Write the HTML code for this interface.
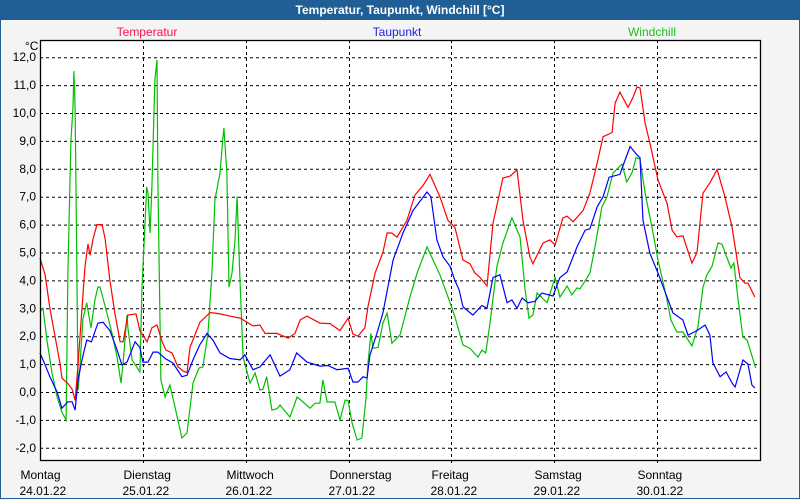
<!DOCTYPE html>
<html><head><meta charset="utf-8"><style>
body{margin:0;width:800px;height:500px;overflow:hidden;background:#f4f4f4;font-family:"Liberation Sans",sans-serif;}
#wrap{position:absolute;left:0;top:0;width:798px;height:498px;border:1px solid #1f5f96;border-top:none;}
#title{position:absolute;left:0;top:0;width:800px;height:20px;background:#1f5f96;color:#fff;font-weight:bold;font-size:12px;text-align:center;line-height:20px;}
</style></head><body>
<div id="wrap"></div>
<div id="title">Temperatur, Taupunkt, Windchill [°C]</div>
<svg id="chart" width="800" height="500" style="position:absolute;left:0;top:0"></svg>
<script>
const days=["Montag","Dienstag","Mittwoch","Donnerstag","Freitag","Samstag","Sonntag"];
const dates=["24.01.22","25.01.22","26.01.22","27.01.22","28.01.22","29.01.22","30.01.22"];
const yTicks=[-2,-1,0,1,2,3,4,5,6,7,8,9,10,11,12];
const tempH=[0,1.2,2.3,3.5,4.7,5.1,6.5,7.5,8.2,8.9,9.8,10.5,11.2,11.7,12.4,13.3,14.5,15.2,16.3,17.5,18.7,19.4,20.5,22.4,23.3,25,26.1,27.3,28.5,29.4,30.8,32.2,33.4,34.3,35,37.3,39.7,42,44.3,46.7,49.7,51.3,52.5,55.3,57.9,59.5,60.7,62.3,65.3,67.7,70,71.9,73,74.2,75.8,76.5,78.2,80,81,82.1,83.3,85.6,87.5,89.4,91,93.3,95.2,96.8,98.7,100.3,101.5,102.7,104.3,105.7,108,109.7,111.3,112.7,114.3,115,117.4,119,120.2,122,123,124.4,126.7,128.3,130,131.4,133.5,134.2,135.3,137.2,138.4,139.3,140,141.2,142.3,144.2,146.3,147.5,148.6,150,152.1,153.3,154.7,156.3,158,159.8,161.5,163.3,164.5,165.2,166.8];
const tempV=[4.8,4.2,3.0,2.0,1.0,0.5,0.3,0.1,-0.3,1.0,3.0,4.5,5.3,4.9,5.5,6.0,6.0,5.5,4.0,2.8,1.8,1.8,2.76,2.8,2.2,1.8,2.3,2.4,1.8,1.5,1.4,0.9,0.75,0.7,1.6,2.5,2.85,2.8,2.72,2.65,2.37,2.4,2.1,2.1,1.93,2.1,2.58,2.72,2.47,2.45,2.2,2.65,2.08,2.0,2.3,3.05,4.26,5.0,5.7,5.7,5.55,6.15,7.06,7.4,7.8,7.0,6.15,5.9,4.73,4.6,4.26,4.1,3.8,6.05,7.67,7.74,7.96,6.15,4.84,4.6,5.34,5.45,5.27,6.24,6.3,6.1,6.5,7.13,8.2,9.15,9.3,10.35,10.75,10.2,10.57,10.93,10.9,9.64,8.92,7.6,6.77,5.8,5.56,5.6,4.62,5.0,7.13,7.5,7.97,7.0,5.9,4.1,3.9,3.9,3.4];
const dewH=[0,1.2,2.3,4,5.1,6.5,7.5,8.2,8.9,9.8,10.9,12,13.5,14.7,16.3,18,19.1,20.3,22.2,23.3,24,25.2,26.4,27.5,29.2,31,33.1,34.3,35.7,37.3,39,40.4,42,44.3,46.7,47.8,49.7,51.3,53.7,56,58.3,59.9,62.3,65.3,67.2,69.3,71.9,73,74.2,75.4,76.3,77,78.6,80,82.4,84.7,87,90.3,91.2,92.6,94,95.7,96.8,97.8,98.7,101,103.1,104.3,105.7,107.3,109,110.1,111.3,112.5,113.9,115.5,117.1,119.7,121.3,123,125.3,127.2,128.3,130,131.4,132.8,135.3,136,137.7,139.3,140,140.7,142.3,144.2,146.3,147.7,150,151.2,153.3,155.2,156.3,157,158.7,160.1,161.5,162.2,164,165.2,166.1,166.8];
const dewV=[1.4,0.97,0.55,0,-0.58,-0.35,-0.35,-0.65,0.43,1.15,1.86,1.8,2.47,2.5,2.2,1.5,0.97,1.07,1.8,1.6,1.07,1.07,1.43,1.43,1.2,1.04,0.55,0.6,1.15,1.7,2.1,1.85,1.4,1.2,1.15,1.33,0.8,0.9,1.33,0.57,0.8,1.4,1.07,0.93,0.95,0.8,0.85,0.36,0.36,0.55,0.5,1.33,2.1,2.83,4.73,5.7,6.5,7.17,7.0,5.45,4.85,4.5,4.0,3.66,3.05,2.76,3.1,3.0,4.1,4.2,3.2,3.3,3.0,3.37,3.2,3.25,3.55,3.44,4.1,4.3,5.2,5.8,5.85,6.63,7.0,7.7,7.8,8.1,8.8,8.5,8.4,6.15,4.97,4.26,3.4,2.83,2.58,2.04,2.2,2.4,2.04,1.04,0.55,0.72,0.32,0.18,1.15,1.0,0.25,0.14];
const windH=[0,0.7,1.6,2.8,4,5.1,6.1,6.5,7.2,7.7,7.9,8.2,8.6,8.9,9.3,10,10.9,11.9,12.8,13.5,14,15.6,16.8,18,18.9,19.4,20.3,20.5,21.5,23.3,23.8,24.3,24.9,25.2,25.7,26.1,26.8,27.3,27.5,28.2,29.2,30.3,31.5,33.1,34.3,35.7,37.1,38,39.2,40.1,40.8,42,42.7,42.9,43.6,44.1,44.8,45.5,46,46.7,47.4,49,50.2,51.3,52,52.9,54.1,55.3,56,58.3,60,61.4,63,64.2,65.3,66,67,68.8,70,71.2,71.9,72.8,74,75.1,76.1,76.5,77.2,77.7,78.9,80,81,82.1,84,86.3,88,90.3,93.3,95.7,96.8,98.7,100.3,102.2,103.1,104,105,106.6,108,110.1,112,113.2,114.1,115,116,118.3,120.2,121.3,123,124.1,125.3,126,127.6,128.3,129.5,131.1,132.3,133.7,135.8,136.9,138.1,139.1,140,141.2,142.8,144.2,146.3,147.2,148.6,150,152.1,153.5,154.7,155.6,156.8,158.2,159.1,161.2,161.9,162.9,164,165,167];
const windV=[2.87,3.0,1.86,0.68,-0.18,-0.72,-1.0,4.26,9.0,10.2,11.5,10.2,4.3,0.07,0.9,2.6,3.2,2.3,3.3,3.76,3.76,2.83,2.1,1.25,0.32,1.04,2.76,2.3,1.15,0.72,3.76,5.34,7.35,7.13,5.7,7.35,11.2,11.9,7.5,0.43,-0.18,0.25,-0.54,-1.65,-1.47,0.32,0.86,0.9,2.1,4.26,6.88,7.85,9.15,9.46,7.85,3.76,4.26,5.45,7.0,3.9,1.25,0.32,0.68,0.07,0.1,0.55,-0.65,-0.6,-0.47,-0.9,-0.18,-0.36,-0.58,-0.4,-0.4,0.43,-0.36,-0.36,-1.0,-0.29,-0.3,-1.1,-1.72,-1.65,-0.18,1.0,2.1,1.57,1.6,2.47,2.83,1.75,2.04,3.4,4.26,5.2,4.2,3.2,2.7,1.68,1.57,1.25,1.5,1.4,2.47,4.5,5.34,6.24,5.56,3.66,2.65,2.76,3.55,3.2,4.1,3.4,3.8,3.48,3.73,3.7,4.08,4.26,5.2,6.63,7.0,7.85,8.17,7.53,7.85,8.4,8.35,7.13,5.9,4.73,3.3,2.58,2.15,2.15,1.65,2.33,3.76,4.2,4.5,5.34,5.3,4.44,4.62,3.3,1.97,1.86,0.86];

const L=40,R=760,T=40,B=460;
const xs=h=>L+h*(R-L)/168;
const ys=v=>392-v*27.9;
const svg=document.getElementById('chart');
const NS='http://www.w3.org/2000/svg';
function mk(tag,attrs,parent){const e=document.createElementNS(NS,tag);for(const k in attrs)e.setAttribute(k,attrs[k]);(parent||svg).appendChild(e);return e;}
mk('rect',{x:L,y:T,width:R-L,height:B-T,fill:'#fff'});
yTicks.forEach(v=>{
  const ln=mk('line',{x1:L,x2:R,y1:ys(v)+0.5,y2:ys(v)+0.5,stroke:'#000','stroke-dasharray':'3,3','stroke-width':1});
  
  
  const t=mk('text',{x:36,y:ys(v)+4,'text-anchor':'end','font-size':12,fill:'#000'});
  t.textContent=v.toFixed(1).replace('.',',');
  
  
});
days.forEach((d,i)=>{
  const gx=Math.round(xs(i*24))+0.5;
  if(i>0){const ln=mk('line',{x1:gx,x2:gx,y1:T,y2:B+6,stroke:'#000','stroke-dasharray':'3,3'});
  
  }
  const t=mk('text',{x:gx-20,y:479,'font-size':12,fill:'#000'});t.textContent=d;
  
  
  const t2=mk('text',{x:gx-21,y:495,'font-size':12,fill:'#000'});t2.textContent=dates[i];
  
  
});
const u=mk('text',{x:25,y:50,'font-size':12,fill:'#000'});u.textContent='°C';


function series(H,V,col,name){
  const p=mk('polyline',{points:H.map((h,i)=>xs(h).toFixed(1)+','+ys(V[i]).toFixed(1)).join(' '),fill:'none',stroke:col,'stroke-width':1.2});
  
  
}
series(windH,windV,'#00c000','windchill-line');
series(tempH,tempV,'#ff0000','temperature-line');
series(dewH,dewV,'#0000ff','dewpoint-line');
mk('rect',{x:L+0.5,y:T+0.5,width:R-L,height:B-T,fill:'none',stroke:'#000','stroke-width':1.3});
[["Temperatur",147,'#ff1050','legend-temperatur'],["Taupunkt",397,'#2020e0','legend-taupunkt'],["Windchill",652,'#20c020','legend-windchill']].forEach(a=>{
  const t=mk('text',{x:a[1],y:36,'text-anchor':'middle','font-size':12,fill:a[2]});t.textContent=a[0];
  
  
});
</script>
</body></html>
